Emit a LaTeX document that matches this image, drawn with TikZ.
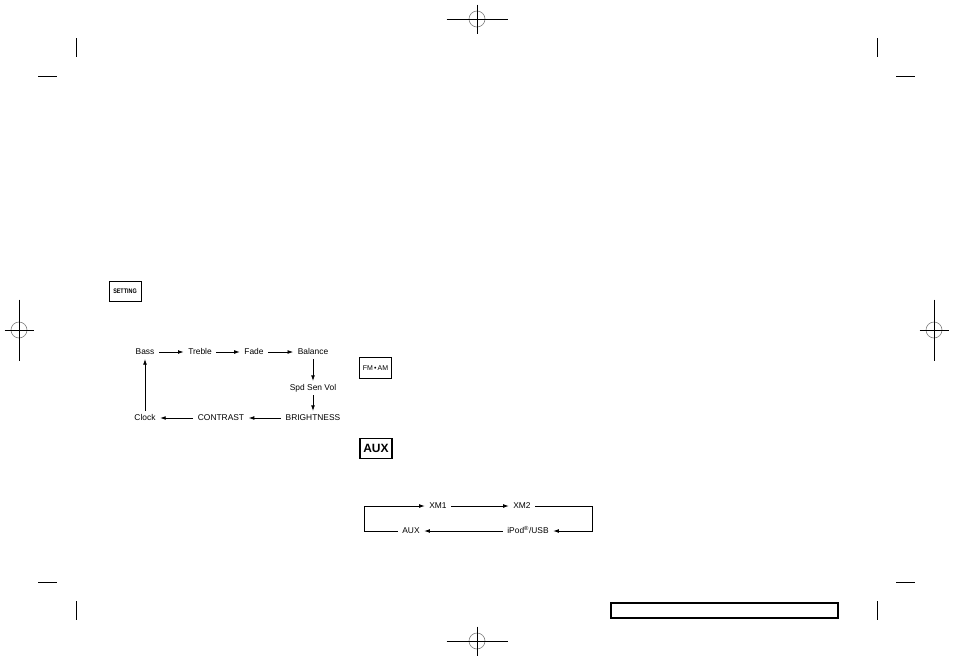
\documentclass[tikz,border=0pt]{standalone}
\usepackage{fontspec}
\setmainfont{Liberation Sans}
\usetikzlibrary{arrows.meta,positioning}
\tikzset{
  menu/.style={inner xsep=4.5pt, inner ysep=3pt, text height=6.2pt, text depth=1.6pt, font=\fontsize{8.4}{10}\selectfont},
  key/.style={draw, line width=0.9pt, minimum width=32pt, minimum height=20.5pt, inner sep=0pt},
  arr/.style={-{Latex[length=5.5pt,width=3.8pt]}, line width=0.7pt},
  crop/.style={line width=0.9pt},
  reg/.style={draw=black!50, line width=0.6pt}
}
\begin{document}
\begin{tikzpicture}[x=1pt,y=-1pt]
\useasboundingbox (0,0) rectangle (954,659);
% printer marks
\foreach \cx/\cy/\hx/\hy in {477/19/30.5/14.5, 477/641/30.5/14.5, 19/330/14.5/30.5, 934/330/14.5/30.5} {
  \draw[reg] (\cx,\cy) circle[radius=8pt];
  \draw[crop] (\cx-\hx,\cy) -- (\cx+\hx,\cy) (\cx,\cy-\hy) -- (\cx,\cy+\hy);
}
\draw[crop] (76,38) -- (76,57) (38,76) -- (57,76);
\draw[crop] (877,38) -- (877,57) (896,76) -- (915,76);
\draw[crop] (76,601) -- (76,620) (38,582) -- (57,582);
\draw[crop] (877,601) -- (877,620) (896,582) -- (915,582);
\draw[line width=1.1pt] (611,603) rectangle (838,618);
% buttons
\node[key] (setting) at (125,291.5) {\fontsize{6.6}{7}\selectfont\bfseries\scalebox{0.82}[1]{SETTING}};
\node[key] (fmam) at (375.5,368) {\fontsize{7}{8}\selectfont FM\,•\,AM};
\node[key, line width=1.2pt] (aux) at (376,448.5) {\fontsize{12}{13}\selectfont\bfseries AUX};
% setting menu
\node[menu] (bass) at (145,352) {Bass};
\node[menu] (treble) at (200,352) {Treble};
\node[menu] (fade) at (254,352) {Fade};
\node[menu] (balance) at (313,352) {Balance};
\node[menu] (spd) at (313,388) {Spd Sen Vol};
\node[menu] (bright) at (313,418) {BRIGHTNESS};
\node[menu] (contrast) at (221,418) {CONTRAST};
\node[menu] (clock) at (145,418) {Clock};
\draw[arr] (bass) -- (treble); \draw[arr] (treble) -- (fade); \draw[arr] (fade) -- (balance);
\draw[arr] (balance) -- (spd); \draw[arr] (spd) -- (bright);
\draw[arr] (bright) -- (contrast); \draw[arr] (contrast) -- (clock); \draw[arr] (clock) -- (bass);
% source loop
\node[menu] (xm1) at (438,506) {XM1};
\node[menu] (xm2) at (522,506) {XM2};
\node[menu] (ipod) at (528,531) {iPod\textsuperscript{®}/USB};
\node[menu] (auxsrc) at (411,531) {AUX};
\coordinate (lt) at (364,506); \coordinate (lb) at (364,531);
\coordinate (rt) at (592,506); \coordinate (rb) at (592,531);
\draw[arr] (xm1) -- (xm2);
\draw[arr] (xm2) -- (rt) -- (rb) -- (ipod);
\draw[arr] (ipod) -- (auxsrc);
\draw[arr] (auxsrc) -- (lb) -- (lt) -- (xm1);
\end{tikzpicture}
\end{document}
